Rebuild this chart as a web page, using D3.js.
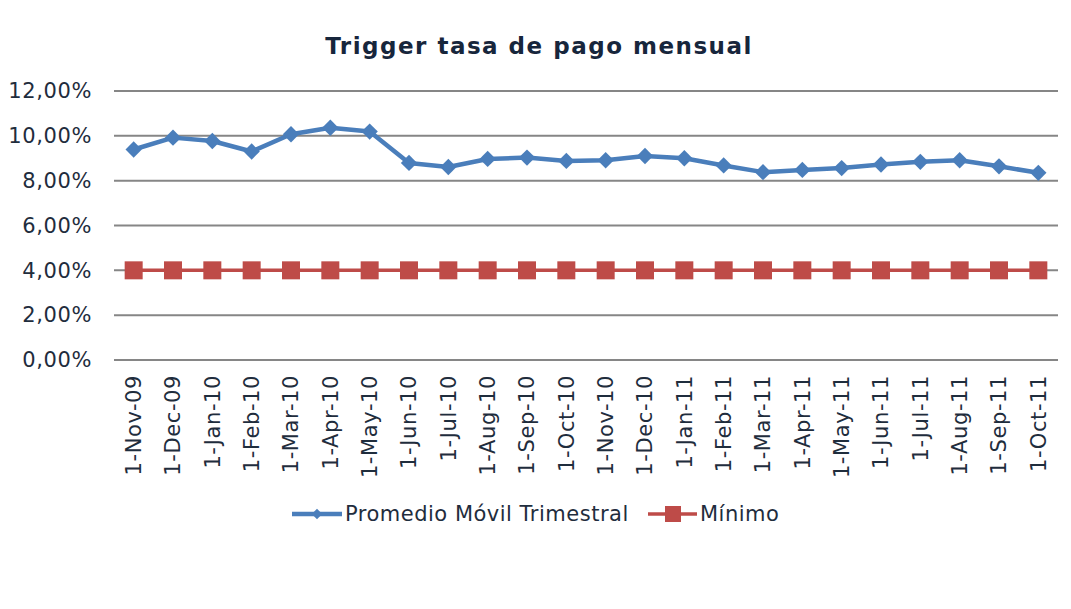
<!DOCTYPE html>
<html lang="es">
<head>
<meta charset="utf-8">
<script src="https://d3js.org/d3.v7.min.js"></script>
<style>
  body { margin: 0; background: #ffffff; }
  svg { display: block; }
  svg text { font-family: "DejaVu Sans", Verdana, sans-serif; }
  .grid line { stroke: #868686; stroke-width: 2; }
  .axis text { fill: #1f2d3d; font-size: 21px; letter-spacing: 0.6px; font-family: "DejaVu Sans", Verdana, sans-serif; }
  .title { fill: #17263c; font-size: 23px; font-weight: bold; letter-spacing: 1.5px; }
  .legend text { fill: #1f2d3d; font-size: 21px; letter-spacing: 0.5px; }
</style>
</head>
<body>
<script>
// data
var categories = ["1-Nov-09","1-Dec-09","1-Jan-10","1-Feb-10","1-Mar-10","1-Apr-10","1-May-10",
  "1-Jun-10","1-Jul-10","1-Aug-10","1-Sep-10","1-Oct-10","1-Nov-10","1-Dec-10","1-Jan-11",
  "1-Feb-11","1-Mar-11","1-Apr-11","1-May-11","1-Jun-11","1-Jul-11","1-Aug-11","1-Sep-11","1-Oct-11"];
var promedio = [9.39, 9.92, 9.77, 9.30, 10.07, 10.36, 10.19, 8.79, 8.61, 8.97, 9.03, 8.88,
  8.91, 9.10, 9.00, 8.68, 8.38, 8.48, 8.56, 8.72, 8.84, 8.91, 8.64, 8.35];
var minimo = [4, 4, 4, 4, 4, 4, 4, 4, 4, 4, 4, 4, 4, 4, 4, 4, 4, 4, 4, 4, 4, 4, 4, 4];
var yTicks = [0, 2, 4, 6, 8, 10, 12];
var seriesNames = ["Promedio Móvil Trimestral", "Mínimo"];

var W = 1071, H = 609;
var margin = {top: 91, right: 13, bottom: 249, left: 114};
var width = W - margin.left - margin.right,
    height = H - margin.top - margin.bottom;

var blue = "#4a7ebb", red = "#be4b48";

var svg = d3.select("body").append("svg")
    .attr("width", W)
    .attr("height", H);

svg.append("text")
    .attr("class", "title")
    .attr("x", 539)
    .attr("y", 54)
    .attr("text-anchor", "middle")
    .text("Trigger tasa de pago mensual");

var g = svg.append("g")
    .attr("transform", "translate(" + margin.left + "," + margin.top + ")");

var x = d3.scaleBand().domain(categories).range([0, width]);
var y = d3.scaleLinear().domain([0, 12]).range([height, 0]);
var fmt = function(v) { return v.toFixed(2).replace(".", ",") + "%"; };

// gridlines
g.append("g").attr("class", "grid")
  .selectAll("line")
  .data(yTicks)
  .enter().append("line")
    .attr("x1", 0).attr("x2", width)
    .attr("y1", function(d) { return y(d); })
    .attr("y2", function(d) { return y(d); });

// y axis labels
var yAxis = g.append("g").attr("class", "axis")
    .call(d3.axisLeft(y).tickValues(yTicks).tickFormat(fmt).tickSize(0).tickPadding(22));
yAxis.select(".domain").remove();
yAxis.attr("font-family", null).attr("font-size", null);

// x axis labels
var xAxis = g.append("g").attr("class", "axis")
    .attr("transform", "translate(0," + height + ")")
    .call(d3.axisBottom(x).tickSize(0));
xAxis.select(".domain").remove();
xAxis.attr("font-family", null).attr("font-size", null);
xAxis.selectAll("text")
    .attr("transform", "rotate(-90)")
    .attr("text-anchor", "end")
    .attr("x", -15)
    .attr("y", 0)
    .attr("dy", "0.35em");

var cx = function(d, i) { return x(categories[i]) + x.bandwidth() / 2; };

var line = d3.line()
    .x(function(d, i) { return cx(d, i); })
    .y(function(d) { return y(d); });

// Minimo series
g.append("path").datum(minimo)
    .attr("fill", "none").attr("stroke", red).attr("stroke-width", 3.5)
    .attr("d", line);
g.selectAll(".sq").data(minimo).enter().append("rect")
    .attr("class", "sq")
    .attr("x", function(d, i) { return cx(d, i) - 9; })
    .attr("y", function(d) { return y(d) - 9; })
    .attr("width", 18).attr("height", 18)
    .attr("fill", red);

// Promedio series
g.append("path").datum(promedio)
    .attr("fill", "none").attr("stroke", blue).attr("stroke-width", 4.5)
    .attr("stroke-linejoin", "round")
    .attr("d", line);
var diamond = d3.symbol().type(d3.symbolDiamond2).size(170);
g.selectAll(".dm").data(promedio).enter().append("path")
    .attr("class", "dm")
    .attr("transform", function(d, i) { return "translate(" + cx(d, i) + "," + y(d) + ")"; })
    .attr("d", diamond)
    .attr("fill", blue);

// legend
var leg = svg.append("g").attr("class", "legend");
var l1 = leg.append("g").attr("transform", "translate(292,514)");
l1.append("line").attr("x1", 0).attr("x2", 50).attr("stroke", blue).attr("stroke-width", 4.5);
l1.append("path").attr("transform", "translate(25,0)")
    .attr("d", d3.symbol().type(d3.symbolDiamond2).size(70)).attr("fill", blue);
l1.append("text").attr("x", 53).attr("dy", "0.35em").text(seriesNames[0]);

var l2 = leg.append("g").attr("transform", "translate(648,514)");
l2.append("line").attr("x1", 0).attr("x2", 49).attr("stroke", red).attr("stroke-width", 3.5);
l2.append("rect").attr("x", 17).attr("y", -8).attr("width", 16).attr("height", 16).attr("fill", red);
l2.append("text").attr("x", 52).attr("dy", "0.35em").text(seriesNames[1]);
</script>
</body>
</html>
